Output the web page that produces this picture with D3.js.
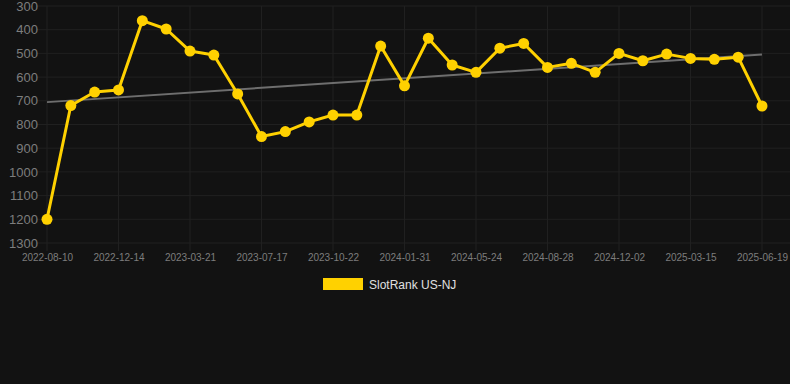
<!DOCTYPE html>
<html><head><meta charset="utf-8">
<script src="https://cdn.jsdelivr.net/npm/d3@7"></script>
<style>
html,body{margin:0;padding:0;background:#121212;}
svg{display:block;font-family:Arial,"Liberation Sans",sans-serif;}
</style></head><body>
<svg id="c" width="790" height="384"></svg>
<script>
const dates = ["2022-08-10","2022-09-21","2022-11-02","2022-12-14","2023-01-15","2023-02-17","2023-03-21","2023-04-29","2023-06-07","2023-07-17","2023-08-18","2023-09-20","2023-10-22","2023-11-30","2023-12-23","2024-01-31","2024-03-07","2024-04-15","2024-05-24","2024-06-28","2024-08-02","2024-08-28","2024-09-30","2024-10-31","2024-12-02","2025-01-05","2025-02-09","2025-03-15","2025-04-15","2025-05-18","2025-06-19"];
const ranks = [1200,720,663,654,362,397,490,507,671,851,830,789,760,760,469,637,436,549,580,478,458,559,542,580,500,531,503,521,525,516,722];
const yTicks = [300,400,500,600,700,800,900,1000,1100,1200,1300];
const seriesName = "SlotRank US-NJ";

(function(){
const svg = d3.select("#c");
const W = 790, pL = 47, pR = 762, pT = 6, pB = 243;
const x = d3.scalePoint().domain(dates).range([pL, pR]);
const y = d3.scaleLinear().domain([300, 1300]).range([pT, pB]);

// grid
const g = svg.append("g");
g.selectAll(".hg").data(yTicks).join("line")
  .attr("x1", pL - 10).attr("x2", W).attr("y1", d => y(d)).attr("y2", d => y(d))
  .attr("stroke", "#202020").attr("stroke-width", 1);
const shown = dates.filter((d, i) => i % 3 === 0);
g.selectAll(".vg").data(shown).join("line")
  .attr("x1", d => x(d)).attr("x2", d => x(d)).attr("y1", pT).attr("y2", pB + 8)
  .attr("stroke", "#202020").attr("stroke-width", 1);

// y labels
const yAxis = d3.axisLeft(y).tickValues(yTicks).tickFormat(d3.format("d")).tickSize(0).tickPadding(0);
const ya = svg.append("g").attr("transform", `translate(${38},0)`).call(yAxis);
ya.select(".domain").remove();
ya.selectAll("text").attr("fill", "#7d7d7d").attr("font-size", 13).attr("font-family", "Arial, 'Liberation Sans', sans-serif");

// x labels
const xAxis = d3.axisBottom(x).tickValues(shown).tickSize(0).tickPadding(0);
const xa = svg.append("g").attr("transform", `translate(0,${254})`).call(xAxis);
xa.select(".domain").remove();
xa.selectAll("text").attr("fill", "#7d7d7d").attr("font-size", 10).attr("dy", "0.71em").attr("font-family", "Arial, 'Liberation Sans', sans-serif");

// trend (linear regression)
const n = ranks.length;
const idx = d3.range(n);
const mx = d3.mean(idx), my = d3.mean(ranks);
const slope = d3.sum(idx, i => (i - mx) * (ranks[i] - my)) / d3.sum(idx, i => (i - mx) ** 2);
const icpt = my - slope * mx;
svg.append("line")
  .attr("x1", x(dates[0])).attr("y1", y(icpt))
  .attr("x2", x(dates[n - 1])).attr("y2", y(icpt + slope * (n - 1)))
  .attr("stroke", "#6e6e6e").attr("stroke-width", 2);

// line
const gold = "#FFD100";
svg.append("path").datum(ranks)
  .attr("d", d3.line().x((d, i) => x(dates[i])).y(d => y(d)))
  .attr("fill", "none").attr("stroke", gold).attr("stroke-width", 3).attr("stroke-linejoin", "round");
svg.selectAll(".pt").data(ranks).join("circle")
  .attr("cx", (d, i) => x(dates[i])).attr("cy", d => y(d)).attr("r", 5.5).attr("fill", gold);

// legend
svg.append("rect").attr("x", 323).attr("y", 278).attr("width", 40).attr("height", 12).attr("fill", gold);
svg.append("text").attr("x", 369).attr("y", 288.5).text(seriesName)
  .attr("fill", "#e0e0e0").attr("font-size", 12);
})();
</script>
</body></html>
